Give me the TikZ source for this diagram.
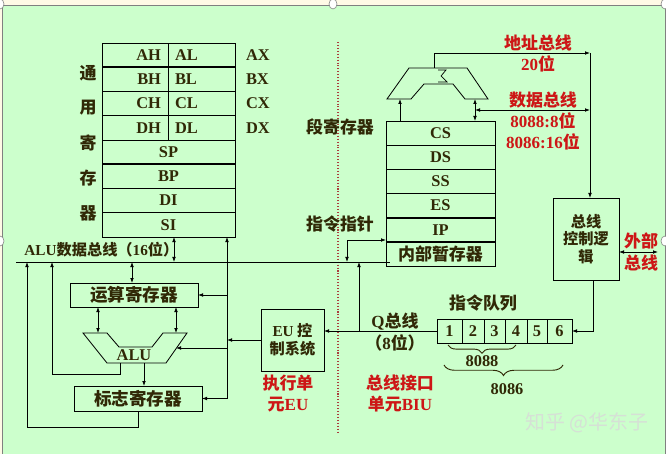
\documentclass[tikz,border=0pt]{standalone}
\usepackage{fontspec}
\setmainfont{Liberation Serif}
\newfontfamily\cjk{Noto Sans CJK SC}
\usetikzlibrary{arrows.meta,decorations.pathreplacing}

\definecolor{ink}{RGB}{48,40,6}
\definecolor{busred}{RGB}{205,22,22}
\definecolor{panel}{RGB}{204,255,204}
\definecolor{strip}{RGB}{255,250,230}
\definecolor{dotred}{RGB}{170,60,60}
\definecolor{wmark}{RGB}{214,224,214}
\newcommand\pxu{0.03cm}
\newcommand\la[1]{{\rmfamily\bfseries #1}}

\begin{document}
\begin{tikzpicture}[
  x=0.03cm, y=-0.03cm, line width=0.7pt,
  reg/.style   = {draw, inner sep=0pt, outer sep=0pt, minimum height=24.2*\pxu,
                  text=ink, font=\bfseries\fontsize{14}{14}\selectfont},
  box/.style   = {draw, inner sep=0pt, outer sep=0pt, align=center, text=ink,
                  font=\cjk\bfseries\fontsize{13}{15}\selectfont},
  note/.style  = {inner sep=0pt, align=center, text=ink,
                  font=\cjk\bfseries\fontsize{14.5}{18}\selectfont},
  rnote/.style = {note, text=busred},
  arr/.style   = {-{Latex[length=1.5mm,width=1.1mm]}},
  darr/.style  = {{Latex[length=1.5mm,width=1.1mm]}-{Latex[length=1.5mm,width=1.1mm]}},
  thk/.style   = {line width=1.6pt},
  brc/.style   = {decorate, decoration={brace, mirror, amplitude=#1}, ink, line width=0.8pt}
]
\useasboundingbox (0,0) rectangle (666,454);
%% -- Panel --
\fill[strip] (0,0) rectangle (666,454);
\fill[panel] (2,5) rectangle (665,454);
\draw[gray, line width=0.5pt] (2,454) -- (2,5) -- (665,5) -- (665,454);
\foreach \hx/\hy in {0/4,333/4,665/4,0/241,665/241}
  \draw[gray, line width=0.5pt, fill=white] (\hx,\hy) ellipse (4 and 5);
\draw[dotred, line width=1.2pt, dash pattern=on 0.9pt off 1.6pt] (338,42) -- (338,432);

%% -- General registers --
\foreach \n/\t/\y in {ah/AH/55.1,bh/BH/79.4,ch/CH/103.6,dh/DH/127.9}
  \node[reg, text width=52*\pxu, inner xsep=7*\pxu, align=right] (\n) at (135,\y) {\t};
\foreach \n/\t/\y in {al/AL/55.1,bl/BL/79.4,cl/CL/103.6,dl/DL/127.9}
  \node[reg, text width=53*\pxu, inner xsep=7*\pxu, align=left] (\n) at (201.5,\y) {\t};
\foreach \n/\t/\y in {sp/SP/152.1,bp/BP/176.4,di/DI/200.6,si/SI/224.9}
  \node[reg, minimum width=133*\pxu] (\n) at (168.5,\y) {\t};
\draw[thk] (ah.south west) -- (al.south east);
\draw[thk] (bh.south west) -- (bl.south east);
\draw[thk] (sp.south west) -- (sp.south east);
\foreach \r/\t in {al/AX,bl/BX,cl/CX,dl/DX}
  \node[reg, draw=none, anchor=west] (\t) at ([xshift=11*\pxu]\r.east) {\t};
\foreach \c [count=\i] in {通,用,寄,存,器}
  \node[note] (gp\i) at (88,38+35*\i) {\c};

%% -- Segment registers --
\foreach \n/\t/\y in {cs/CS/133.1,ds/DS/157.3,ss/SS/181.4,es/ES/205.6,ip/IP/229.8}
  \node[reg, minimum width=109*\pxu] (\n) at (440.5,\y) {\t};
\node[reg, minimum width=109*\pxu, font=\cjk\bfseries\fontsize{14.5}{15}\selectfont]
  (tmp) at (440.5,254) {内部暂存器};
\draw[thk] (es.south west) -- (es.south east);
\draw[thk] (ip.south west) -- (ip.south east);
\node[note] (seglbl) at (340,127) {段寄存器};
\node[note] (iplbl)  at (340,224) {指令指针};

%% -- Address adder --
\draw (387,99) -- (409,68) -- (467,68) -- (488,99) -- (465,99) -- (453,84)
  -- (424,84) -- (411,99) -- cycle;
\draw[line width=0.6pt] (438,70) -- (446,70) -- (441,76) -- (447,82) -- (438,82);
\coordinate (addl) at (400,99);
\coordinate (addr) at (475,99);
\coordinate (addt) at (434,68);
\coordinate (abus) at (590,53);
\coordinate (dbl)  at (475,110);
\coordinate (dbr)  at (590,110);
\draw[arr] (addl |- cs.north) -- (addl);
\draw[darr] (addr) -- (addr |- cs.north);
\draw[darr] (dbl) -- (dbr);
\draw[arr] (addt) |- (abus);
\node[rnote] (ablbl) at (538,53.5) {地址总线\\\la{20}位};
\node[rnote] (dblbl) at (543,121) {数据总线\\\la{8088:8}位\\\la{8086:16}位};

%% -- Bus control --
\node[box, minimum width=66*\pxu, minimum height=82*\pxu] (bcl) at (586,239)
  {总线\\控制逻\\辑};
\draw[arr] (abus) -- (abus |- bcl.north);
\coordinate (extr) at (658,252);
\draw[darr] (bcl.east |- extr) -- (extr);
\node[rnote] (extlbl) at (641,252) {外部\\总线};

%% -- Instruction queue --
\foreach \i/\x/\w in {1/449.5/25,2/473/22,3/494.5/21,4/516/22,5/537/20,6/559.5/25}
  \node[reg, minimum width=\w*\pxu, minimum height=24*\pxu] (q\i) at (\x,331) {\i};
\node[note] (qlbl) at (483,303) {指令队列};
\draw[arr] ([xshift=7*\pxu]bcl.south) |- (q6.east);
\draw[brc=7pt] (448,345) -- (516,345);
\draw[brc=9pt] (444,365) -- (563,365);
\node[reg, draw=none] (n8088) at (482,361) {8088};
\node[reg, draw=none] (n8086) at (507,389) {8086};

%% -- EU control + Q bus --
\node[box, minimum width=63*\pxu, minimum height=62*\pxu] (eucs) at (292.5,340)
  {\la{EU} 控\\制系统};
\draw[arr] (q1.west) -- (q1.west -| eucs.east);
\node[note] (qbus) at (395,322) {\la{Q}总线};
\node[note] (qbits) at (395,343) {（\la{8}位）};
\node[rnote] (eulbl)  at (288,393.5) {执行单\\元\la{EU}};
\node[rnote] (biulbl) at (400,393.5) {总线接口\\单元\la{BIU}};

%% -- ALU data bus --
\coordinate (busl) at (16,262);
\coordinate (busr) at (390,262);
\draw (busl) -- (busr);
\node[note, anchor=west, font=\cjk\bfseries\fontsize{13}{15}\selectfont] (buslbl)
  at (24,250) {\la{ALU}数据总线（\la{16}位）};
\coordinate (qup) at (359,331);
\draw[arr] (qup) -- (qup |- busl);
\coordinate (ipk) at (347,240);
\draw[darr] (ipk |- busl) -- (ipk) -- (ipk -| tmp.west);
\coordinate (k1) at (174,262);
\draw[darr] (k1) -- (k1 |- si.south);

%% -- ALU side --
\node[box, minimum width=128*\pxu, minimum height=24*\pxu,
      font=\cjk\bfseries\fontsize{15}{15}\selectfont] (ar) at (134,295) {运算寄存器};
\node[box, minimum width=128*\pxu, minimum height=25*\pxu,
      font=\cjk\bfseries\fontsize{15}{15}\selectfont] (flag) at (138,398.5) {标志寄存器};
\draw (83,333) -- (107,333) -- (119,347) -- (152,347) -- (163,333) -- (187,333)
  -- (166,363) -- (107,363) -- cycle;
\node[reg, draw=none] (alu) at (134,355) {ALU};
\coordinate (k3) at (132,262);
\draw[darr] (k3) -- (k3 |- ar.north);
\coordinate (alua) at (98,333);
\coordinate (alub) at (176,333);
\draw[darr] (alua |- ar.south) -- (alua);
\draw[darr] (alub |- ar.south) -- (alub);
\coordinate (aluo) at (144,363);
\draw[arr] (aluo) -- (aluo |- flag.north);
\coordinate (aluf) at (120,363);
\coordinate (k4) at (52,374);
\draw[arr] (aluf) |- (k4) -- (k4 |- busl);
\coordinate (k5) at (27,427);
\draw[arr] (flag.south) |- (k5) -- (k5 |- busl);

%% -- Control lines from EU --
\coordinate (ctl) at (227,340);
\coordinate (alur) at (176,348);
\draw[arr] (eucs.west) -- (ctl);
\draw[arr] (ctl) -- (ctl |- si.south);
\draw[arr] (ctl |- ar.east) -- (ar.east);
\draw[arr] (ctl |- alur) -- (alur);
\draw[arr] (ctl) |- (flag.east);

%% -- Watermark --
\node[font=\cjk\fontsize{17}{17}\selectfont, text=wmark] (wm) at (587,423) {知乎 @华东子};
\end{tikzpicture}
\end{document}
